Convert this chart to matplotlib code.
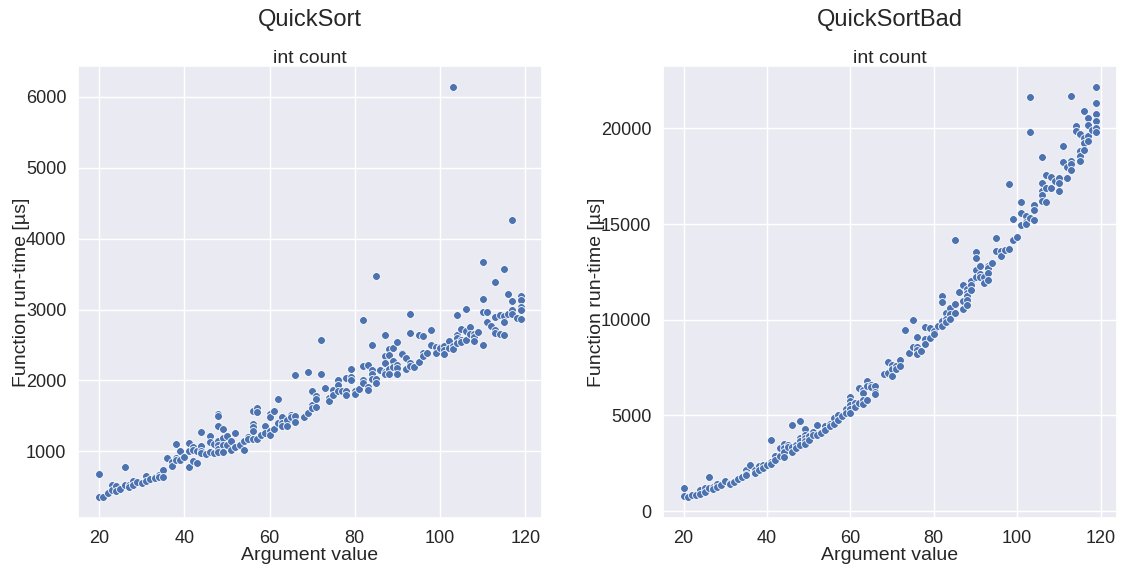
import matplotlib
matplotlib.use("Agg")
import matplotlib.pyplot as plt
import seaborn as sns

# ---- data: QuickSort (argument value -> run-times in µs) ----
qs_data = {
    20: [683, 357], 21: [347], 22: [413], 23: [524, 450], 24: [506, 436], 25: [464],
    26: [776, 524], 27: [529, 497], 28: [576, 520], 29: [566], 30: [548],
    31: [655, 585], 32: [613], 33: [636, 627], 34: [664, 636], 35: [729, 641],
    36: [902], 37: [846, 795], 38: [1098, 898, 874], 39: [1004, 870], 40: [916],
    41: [1122, 1000, 776], 42: [1056, 1024, 856], 43: [1004, 832],
    44: [1275, 1080, 1004, 968], 45: [958], 46: [1214, 1136, 990], 47: [1102, 972],
    48: [1522, 1494, 1359, 1150, 1088, 1032, 986], 49: [1308, 1182, 1088, 986],
    50: [1220, 1088], 51: [1140, 1010], 52: [1256, 1060], 53: [1088],
    54: [1140, 1024], 55: [1206, 1178], 56: [1569, 1382, 1336, 1290, 1178],
    57: [1611, 1555, 1178], 58: [1224], 59: [1350, 1262], 60: [1527, 1485, 1290, 1234],
    61: [1573, 1308], 62: [1731, 1401], 63: [1476, 1401, 1350], 64: [1434, 1359],
    65: [1517, 1485], 66: [2073, 1499, 1415], 68: [1485], 69: [2123, 1545],
    70: [1843, 1648, 1615], 71: [1783, 1731, 1620], 72: [2571, 2087], 73: [1895],
    74: [1751, 1713], 75: [1857, 1793], 76: [2011, 1932, 1853], 77: [1853],
    78: [2035, 1843, 1787], 79: [2161, 2054, 2011], 80: [1853, 1807], 81: [1871],
    82: [2850, 2207, 2011, 1969], 83: [2217, 1909, 1867], 84: [2506, 2147, 2087, 2017],
    85: [3476, 2025, 1961], 86: [2147], 87: [2646, 2345, 2252, 2119, 2087],
    88: [2436, 2352, 2165, 2087], 89: [2459, 2273, 2189], 90: [2538, 2221, 2175, 2095],
    91: [2389, 2366], 92: [2310, 2161], 93: [2934, 2669, 2245, 2207], 94: [2189],
    95: [2646, 2263], 96: [2627, 2380, 2347], 97: [2380], 98: [2716, 2501],
    99: [2473, 2380], 100: [2473, 2455], 101: [2492, 2427, 2375], 102: [2562, 2450],
    103: [6147, 2478, 2436], 104: [2926, 2646, 2599, 2524], 105: [2730, 2571, 2538],
    106: [3004, 2692, 2571], 107: [2758, 2655], 108: [2660, 2613, 2562], 109: [2683],
    110: [3667, 3144, 2968, 2506], 111: [2958, 2818], 112: [2772],
    113: [3392, 2892, 2706, 2664], 114: [2926, 2650], 115: [3569, 2906, 2822, 2636],
    116: [3220, 2930], 117: [4259, 3126, 3000, 2940], 118: [2874],
    119: [3192, 3136, 3042, 2990, 2864],
}

# ---- data: QuickSortBad ----
qsb_data = {
    20: [1177, 760], 21: [708], 22: [849], 23: [849], 24: [1109, 885], 25: [1177, 969],
    26: [1771, 1177], 27: [1281, 1125], 28: [1406, 1281], 29: [1370], 30: [1562],
    31: [1490, 1422], 32: [1526], 33: [1682], 34: [1786], 35: [2167, 1958, 1875],
    36: [2411], 37: [2167, 2010], 38: [2344, 2135], 39: [2411, 2255], 40: [2396],
    41: [3698, 2568, 2463], 42: [2896, 2688], 43: [3312, 2896],
    44: [3505, 3297, 3073, 2844], 45: [3453, 3333], 46: [4510, 3333, 3104],
    47: [3437, 3297], 48: [4703, 3817, 3646, 3468], 49: [4271, 3990, 3817, 3646, 3505],
    50: [3906, 3729], 51: [4130, 3958], 52: [4510, 3958], 53: [4062], 54: [4427, 4219],
    55: [4562, 4427], 56: [4844, 4547], 57: [5000, 4771], 58: [4948], 59: [5328, 5104],
    60: [5953, 5760, 5520, 5312, 5120], 61: [5625, 5416], 62: [6406, 5625],
    63: [6317, 6145, 5781, 5588], 64: [6786, 6526, 5812], 65: [6578, 6458],
    66: [6526, 6198, 6125], 68: [7166], 69: [7791, 7218], 70: [7656, 7447, 7031],
    71: [7567, 7447], 72: [7916, 7567], 73: [9458], 74: [8244], 75: [10000, 8572],
    76: [9114, 8572, 8401, 8229], 77: [8348], 78: [9614, 8989, 8729], 79: [9583, 9041],
    80: [9426, 9234], 81: [9650], 82: [11249, 10937, 9911, 9666],
    83: [10327, 10031, 9895], 84: [10588, 10312, 10031], 85: [14181, 10812, 10327],
    86: [11473], 87: [11838, 10968, 10572], 88: [11593, 11406, 11249, 11041, 10760],
    89: [12030, 11801, 11541], 90: [13556, 13244, 12619, 12218],
    91: [12791, 12411, 12254], 92: [12254, 11942], 93: [12791, 12707, 12426, 12098],
    94: [12947], 95: [14249, 13593], 96: [13593, 13312], 97: [13624],
    98: [17114, 13676], 99: [15259, 14145], 100: [14301], 101: [16176, 15572, 14926],
    102: [15395, 15103, 14978], 103: [21645, 19790, 15311], 104: [16020, 15759, 15186],
    106: [18504, 17150, 16734, 16510, 16197], 107: [17551, 16890, 16145],
    108: [17447, 16890], 109: [17270], 110: [17410, 17150, 16734], 111: [19061, 18244],
    112: [17968, 17395], 113: [21717, 18280, 18155, 17827], 114: [20118, 19858],
    115: [19701, 18816, 18556, 18280], 116: [20884, 19478, 19218, 18853],
    117: [20535, 20155, 19597, 19322], 118: [19910],
    119: [22186, 21332, 20743, 20379, 19999, 19790],
}

titles = ["QuickSort", "QuickSortBad"]
subtitle = "int count"
xlabel = "Argument value"
ylabel = "Function run-time [µs]"


def flatten(d):
    xs, ys = [], []
    for k, vals in d.items():
        for v in vals:
            xs.append(k)
            ys.append(v)
    return xs, ys


sns.set_theme(style="darkgrid", font_scale=1.2)
plt.rcParams["font.family"] = ["Liberation Sans", "DejaVu Sans"]

fig = plt.figure(figsize=(11.23, 5.69), dpi=100)
ax1 = fig.add_axes([0.0695, 0.0896, 0.4132, 0.7944])
ax2 = fig.add_axes([0.5904, 0.0896, 0.4043, 0.7944])

for ax, data, title in zip([ax1, ax2], [qs_data, qsb_data], titles):
    xs, ys = flatten(data)
    ax.scatter(xs, ys, s=32, color="#4C72B0", edgecolor="white", linewidth=0.6, zorder=3)
    ax.set_title(subtitle, fontsize=14, pad=2)
    ax.set_xlabel(xlabel, fontsize=14, labelpad=0)
    ax.set_ylabel(ylabel, fontsize=14, labelpad=-3)
    ax.set_xticks([20, 40, 60, 80, 100, 120])
    ax.tick_params(labelsize=13, pad=2.5)
    pos = ax.get_position()
    fig.text(pos.x0 + pos.width / 2, 0.965, title, ha="center", va="center", fontsize=17)

ax1.set_yticks([1000, 2000, 3000, 4000, 5000, 6000])
ax2.set_yticks([0, 5000, 10000, 15000, 20000])

fig.savefig("out.png", dpi=100)
